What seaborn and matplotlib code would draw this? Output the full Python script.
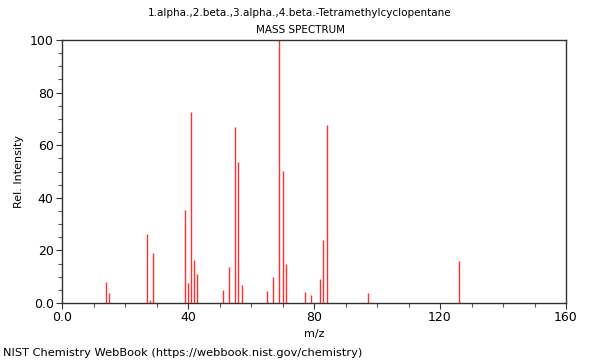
import matplotlib
import seaborn as sns
from matplotlib import pyplot as plt
from matplotlib.ticker import MultipleLocator

matplotlib.use('agg')

# m/z peaks and relative intensities
mz = [14, 15, 27, 28, 29, 39, 40, 41, 42, 43, 51, 53, 55, 56, 57,
      65, 67, 69, 70, 71, 77, 79, 82, 83, 84, 97, 126]
intensity = [8.0, 3.8, 26.3, 1.0, 19.1, 35.5, 7.5, 72.5, 16.2, 10.9, 4.9, 13.8, 66.9, 53.6, 6.7,
             4.6, 9.9, 100.0, 50.2, 14.9, 4.1, 3.0, 9.1, 24.0, 67.7, 3.7, 16.0]

x_ticks = [0, 40, 80, 120, 160]
x_tick_labels = ["0.0", "40", "80", "120", "160"]
y_ticks = [0, 20, 40, 60, 80, 100]
y_tick_labels = ["0.0", "20", "40", "60", "80", "100"]

sns.set_theme(style="ticks", rc={"text.color": "black", "axes.labelcolor": "black",
                                 "xtick.color": "black", "ytick.color": "black"})
plt.rcParams['font.family'] = ['DejaVu Sans']

fig = plt.figure(figsize=(6, 3.6), dpi=100)
ax = fig.add_axes([62 / 600, 1 - 303 / 360, 504 / 600, 263 / 360])

ax.vlines(mz, 0, intensity, colors='#ff3030', linewidth=1.0)

ax.set_xlim(0, 160)
ax.set_ylim(0, 100)
ax.set_xticks(x_ticks)
ax.set_xticklabels(x_tick_labels)
ax.set_yticks(y_ticks)
ax.set_yticklabels(y_tick_labels)
ax.xaxis.set_minor_locator(MultipleLocator(10))
ax.yaxis.set_minor_locator(MultipleLocator(5))
ax.tick_params(axis='both', which='major', labelsize=9, length=4, width=0.8,
               color='#333333', labelcolor='black', pad=2)
ax.tick_params(axis='both', which='minor', length=3, width=0.8, color='#555555')

for side in ['top', 'right', 'left', 'bottom']:
    ax.spines[side].set_color('#333333')
    ax.spines[side].set_linewidth(1.0)

ax.set_xlabel("m/z", fontsize=8, labelpad=3, color='black')
ax.set_ylabel("Rel. Intensity", fontsize=8, labelpad=4, color='black')

fig.text(0.5, 1 - 13 / 360, "1.alpha.,2.beta.,3.alpha.,4.beta.-Tetramethylcyclopentane",
         ha='center', va='center', fontsize=7.5, color='black')
fig.text(0.5, 1 - 30 / 360, "MASS SPECTRUM", ha='center', va='center', fontsize=7.5,
         color='black')
fig.text(3 / 600, 1 - 353 / 360, "NIST Chemistry WebBook (https://webbook.nist.gov/chemistry)",
         ha='left', va='center', fontsize=8.2, color='black')

fig.savefig("out.png", dpi=100)
plt.close(fig)
